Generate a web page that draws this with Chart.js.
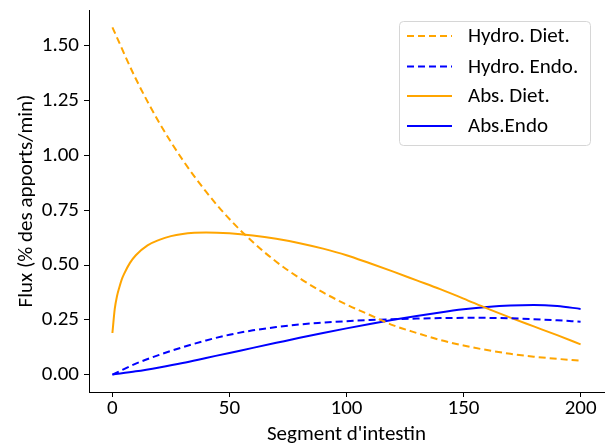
<!DOCTYPE html>
<html>
<head>
<meta charset="utf-8">
<script src="https://cdn.jsdelivr.net/npm/chart.js@4.4.1/dist/chart.umd.min.js"></script>
<style>
  html, body { margin: 0; padding: 0; background: #fff; }
  #wrap { width: 608px; height: 445px; }
</style>
</head>
<body>
<div id="wrap"><canvas id="c" width="608" height="445"></canvas></div>
<script>
// ---- data ----
const seriesLabels = ["Hydro. Diet.", "Hydro. Endo.", "Abs. Diet.", "Abs.Endo"];
const xCommon = [0,10,20,30,40,50,60,70,80,90,100,110,120,130,140,150,160,170,180,190,200];
const hydroDiet = [1.585,1.35,1.15,0.98,0.835,0.71,0.605,0.515,0.44,0.375,0.32,0.272,0.225,0.19,0.158,0.133,0.112,0.095,0.082,0.072,0.064];
const hydroEndo = [0,0.05,0.09,0.125,0.156,0.182,0.202,0.217,0.229,0.237,0.244,0.249,0.253,0.256,0.258,0.259,0.259,0.257,0.253,0.248,0.241];
const xAbsDiet = [0,1,2,3,4,5,7.5,10,15,20,25,30,35,40,50,60,70,80,90,100,110,120,130,140,150,160,170,180,190,200];
const absDiet = [0.19,0.30,0.36,0.40,0.435,0.46,0.51,0.545,0.59,0.615,0.632,0.642,0.647,0.649,0.645,0.635,0.62,0.60,0.575,0.545,0.508,0.47,0.43,0.39,0.347,0.302,0.26,0.22,0.18,0.138];
const absEndo = [0,0.015,0.033,0.053,0.076,0.099,0.122,0.145,0.168,0.19,0.211,0.231,0.25,0.268,0.284,0.298,0.309,0.316,0.318,0.313,0.30];
const xTicks = [0,50,100,150,200];
const yTicks = [0,0.25,0.5,0.75,1.0,1.25,1.5];

const ORANGE = '#FFA500', BLUE = '#0000FF';
const FONT = "Carlito, Lato, 'Open Sans', sans-serif";
const FS = 21;

function pts(xs, ys) { return xs.map((x, i) => ({x: x, y: ys[i]})); }

const datasets = [
  {label: seriesLabels[0], data: pts(xCommon, hydroDiet), borderColor: ORANGE, borderDash: [7,4]},
  {label: seriesLabels[1], data: pts(xCommon, hydroEndo), borderColor: BLUE, borderDash: [7,4]},
  {label: seriesLabels[2], data: pts(xAbsDiet, absDiet), borderColor: ORANGE, borderDash: []},
  {label: seriesLabels[3], data: pts(xCommon, absEndo), borderColor: BLUE, borderDash: []}
].map(d => Object.assign(d, {borderWidth: 2, pointRadius: 0, fill: false, cubicInterpolationMode: 'monotone', borderCapStyle: 'butt'}));

const boxLegend = {
  id: 'boxLegend',
  afterDraw(chart) {
    const ctx = chart.ctx;
    const x0 = 399.5, y0 = 21.5, w = 191, h = 124, r = 4;
    ctx.save();
    ctx.beginPath();
    ctx.moveTo(x0 + r, y0);
    ctx.arcTo(x0 + w, y0, x0 + w, y0 + h, r);
    ctx.arcTo(x0 + w, y0 + h, x0, y0 + h, r);
    ctx.arcTo(x0, y0 + h, x0, y0, r);
    ctx.arcTo(x0, y0, x0 + w, y0, r);
    ctx.closePath();
    ctx.fillStyle = 'rgba(255,255,255,0.8)';
    ctx.fill();
    ctx.strokeStyle = '#d6d6d6';
    ctx.lineWidth = 1;
    ctx.stroke();
    const rows = [36, 66.5, 96, 126];
    chart.data.datasets.forEach((ds, i) => {
      const y = rows[i];
      ctx.beginPath();
      ctx.setLineDash(ds.borderDash || []);
      ctx.strokeStyle = ds.borderColor;
      ctx.lineWidth = 2;
      ctx.moveTo(407, y);
      ctx.lineTo(452, y);
      ctx.stroke();
      ctx.setLineDash([]);
      ctx.fillStyle = '#000';
      ctx.font = FS + "px " + FONT;
      ctx.textBaseline = 'middle';
      ctx.textAlign = 'left';
      ctx.fillText(ds.label, 468, y + 1);
    });
    ctx.restore();
  }
};

new Chart(document.getElementById('c'), {
  type: 'line',
  data: {datasets: datasets},
  plugins: [boxLegend],
  options: {
    responsive: false,
    animation: false,
    devicePixelRatio: 1,
    layout: {padding: {left: 0, right: 4, top: 10, bottom: 0}},
    plugins: {legend: {display: false}, tooltip: {enabled: false}},
    scales: {
      x: {
        type: 'linear', min: -10, max: 210,
        afterBuildTicks: s => { s.ticks = xTicks.map(v => ({value: v})); },
        afterFit: s => { s.height = 53; s.paddingLeft = 0; s.paddingRight = 0; },
        grid: {display: true, drawOnChartArea: false, drawTicks: true, tickLength: 5, color: '#000'},
        border: {display: true, color: '#000', width: 1},
        ticks: {color: '#000', font: {family: FONT, size: FS, lineHeight: 1}, padding: 1, maxRotation: 0, callback: v => String(v)},
        title: {display: true, text: "Segment d'intestin", color: '#000', font: {family: FONT, size: FS, lineHeight: 1}, padding: {top: 0, bottom: 0}}
      },
      y: {
        type: 'linear', min: -0.0793, max: 1.664,
        afterBuildTicks: s => { s.ticks = yTicks.map(v => ({value: v})); },
        afterFit: s => { s.width = 89; s.paddingTop = 0; s.paddingBottom = 0; },
        grid: {display: true, drawOnChartArea: false, drawTicks: true, tickLength: 5, color: '#000'},
        border: {display: true, color: '#000', width: 1},
        ticks: {color: '#000', font: {family: FONT, size: FS}, padding: 5, callback: v => v.toFixed(2)},
        title: {display: true, text: "Flux (% des apports/min)", color: '#000', font: {family: FONT, size: FS, lineHeight: 1}, padding: {top: 16, bottom: 0}}
      }
    }
  }
});
</script>
</body>
</html>
